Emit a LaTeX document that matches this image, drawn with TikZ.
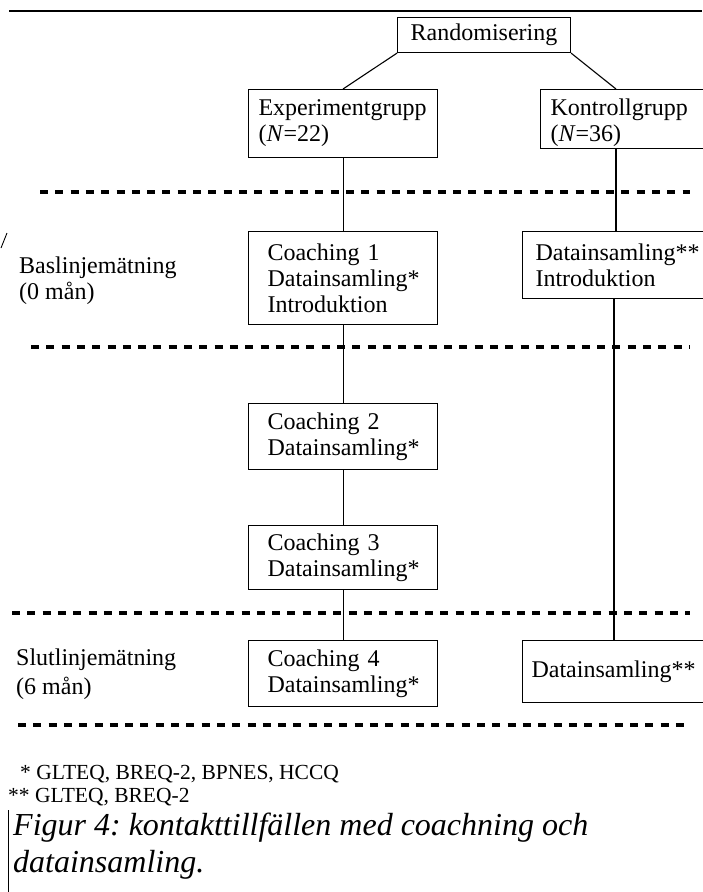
\documentclass[tikz,border=0pt]{standalone}
\usepackage{fontspec}
\setmainfont{Liberation Serif}
\frenchspacing
\begin{document}
\begin{tikzpicture}[x=1pt,y=-1pt,
  box/.style={draw, line width=1.1pt, anchor=north west, align=left, inner ysep=0pt,
    font=\fontsize{24}{26}\selectfont},
  lbl/.style={anchor=base west, inner sep=0pt, font=\fontsize{24}{26}\selectfont},
  foot/.style={anchor=base west, inner sep=0pt, font=\fontsize{21.5}{24}\selectfont},
  capt/.style={anchor=base west, inner sep=0pt, font=\fontsize{32}{37}\selectfont\itshape},
  sep/.style={line width=3.8pt, dash pattern=on 8pt off 7.3pt},
  conn/.style={line width=1.1pt}]
\useasboundingbox (0,0) rectangle (702,892);
\fill[white] (0,0) rectangle (702,892);
% top rule
\draw[line width=1.3pt] (9,11) -- (702,11);
% boxes
\node[box, minimum width=173pt, minimum height=35pt, align=center, inner xsep=0pt, text width=173pt] (rand) at (397,17) {Randomisering};
\node[box, minimum height=68pt, inner xsep=10pt, text width=169pt] (exp) at (248,89) {Experimentgrupp\\(\textit{N}=22)};
\node[box, minimum height=59pt, inner xsep=10pt, text width=146pt] (kon) at (540,89) {\rule{0pt}{24pt}Kontrollgrupp\\(\textit{N}=36)};
\node[box, minimum height=93pt, inner xsep=19pt, text width=151pt] (c1) at (248,231) {Coaching 1\\Datainsamling*\\Introduktion};
\node[box, minimum height=67pt, inner xsep=13pt, text width=158pt] (kd1) at (522,231) {Datainsamling**\\Introduktion};
\node[box, minimum height=66pt, inner xsep=19pt, text width=151pt] (c2) at (248,403) {Coaching 2\\Datainsamling*};
\node[box, minimum height=64pt, inner xsep=19pt, text width=151pt] (c3) at (248,525) {Coaching 3\\Datainsamling*};
\node[box, minimum height=66pt, inner xsep=19pt, text width=151pt] (c4) at (248,640) {Coaching 4\\Datainsamling*};
\node[box, minimum height=62pt, inner xsep=9pt, text width=166pt] (kd2) at (522,640) {Datainsamling**};
% connector helper coordinates
\coordinate (kt) at (616,89);
\coordinate (kx) at (614,0);
% connectors
\draw[conn] (rand.south west) -- (exp.north);
\draw[conn] (rand.south east) -- (kt);
\draw[conn] (exp.south) -- (c1.north);
\draw[conn] (kon.south -| kt) -- (kd1.north -| kt);
\draw[conn] (c1.south) -- (c2.north);
\draw[conn] (c2.south) -- (c3.north);
\draw[conn] (c3.south) -- (c4.north);
\draw[conn] (kd1.south -| kx) -- (kd2.north -| kx);
% separators
\draw[sep] (40,192) -- (690,192);
\draw[sep] (31,347) -- (690,347);
\draw[sep] (12,613) -- (690,613);
\draw[sep] (18,725) -- (690,725);
% side labels
\node[lbl] (bas1) at (19,273) {Baslinjemätning};
\node[lbl] (bas2) at (19,299) {(0 mån)};
\node[lbl] (slut1) at (16,665) {Slutlinjemätning};
\node[lbl] (slut2) at (16,694) {(6 mån)};
% small artifact at left edge
\draw[line width=0.9pt] (1,248) -- (7,233);
% footnotes
\node[foot] (f1) at (20,779) {* GLTEQ, BREQ-2, BPNES, HCCQ};
\node[foot] (f2) at (8,802) {** GLTEQ, BREQ-2};
% caption
\draw[line width=1pt] (8,810) -- (8,892);
\node[capt] (cap1) at (13,835) {Figur 4: kontakttillfällen med coachning och};
\node[capt] (cap2) at (13,872) {datainsamling.};
\end{tikzpicture}
\end{document}
